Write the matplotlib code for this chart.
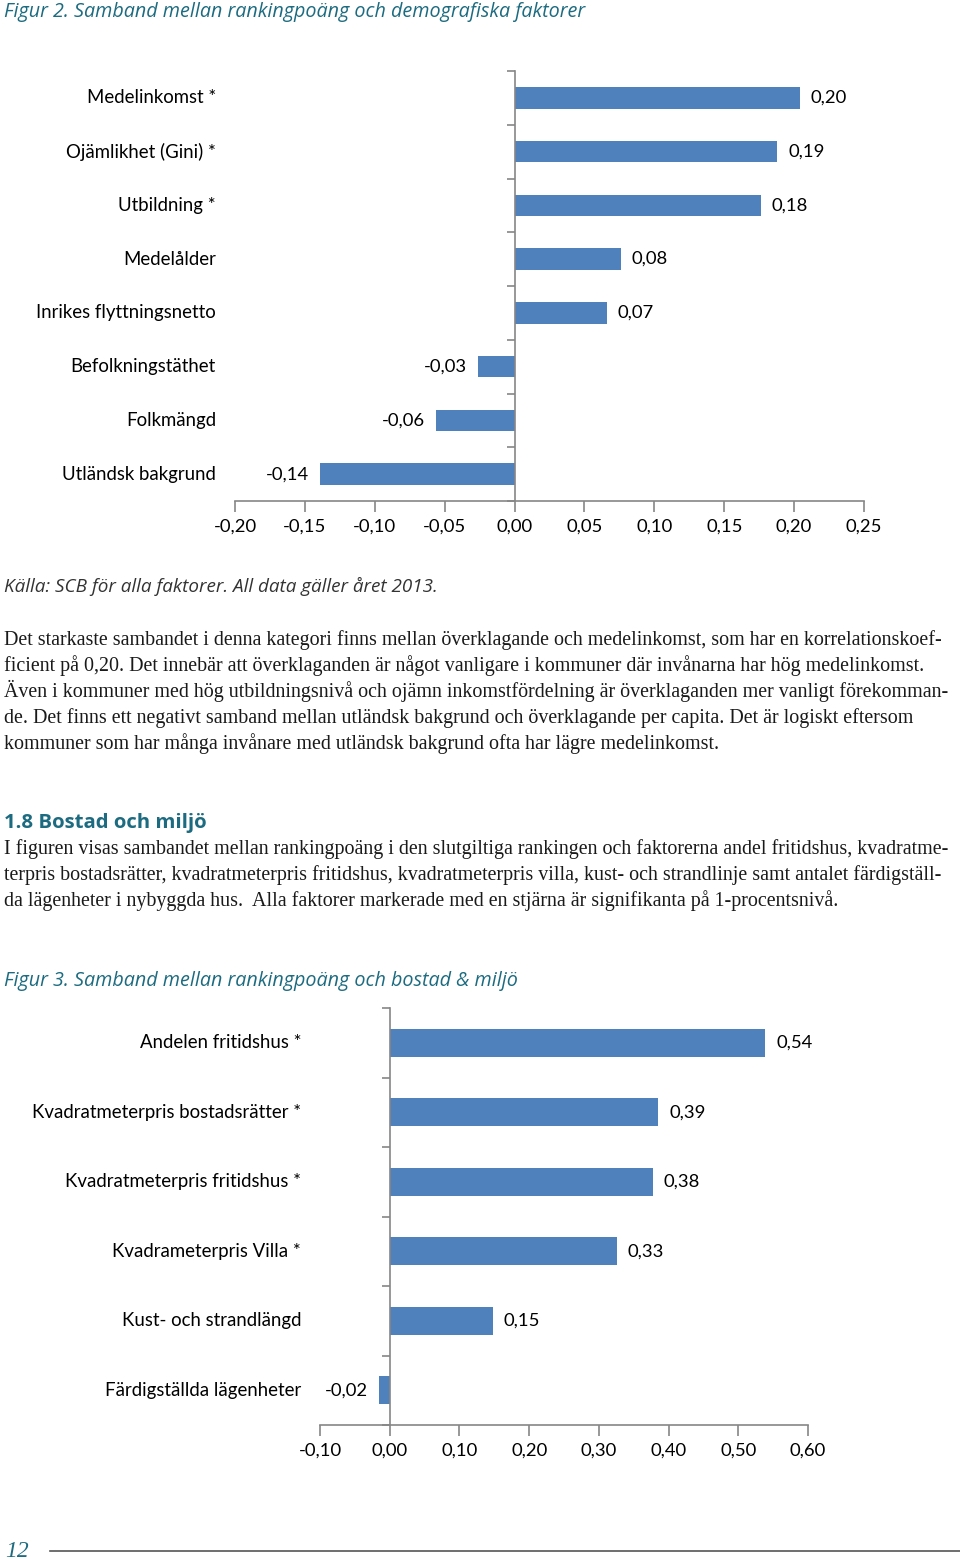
import matplotlib
matplotlib.use('Agg')
import matplotlib.pyplot as plt
import matplotlib.transforms as mtransforms

W, H = 960, 1560
BLUE = '#4F81BD'
AXC = '#868686'
TEAL = '#1C6B80'
SANS = 'Lato'

# Figur 2
demo_labels = ['Medelinkomst *', 'Ojämlikhet (Gini) *', 'Utbildning *', 'Medelålder',
               'Inrikes flyttningsnetto', 'Befolkningstäthet', 'Folkmängd', 'Utländsk bakgrund']
demo_values = [0.204, 0.188, 0.176, 0.076, 0.066, -0.026, -0.056, -0.139]
demo_ticks = [-0.20, -0.15, -0.10, -0.05, 0.00, 0.05, 0.10, 0.15, 0.20, 0.25]

# Figur 3
bostad_labels = ['Andelen fritidshus *', 'Kvadratmeterpris bostadsrätter *',
                 'Kvadratmeterpris fritidshus *', 'Kvadrameterpris Villa *',
                 'Kust- och strandlängd', 'Färdigställda lägenheter']
bostad_values = [0.539, 0.385, 0.377, 0.326, 0.148, -0.016]
bostad_ticks = [-0.10, 0.00, 0.10, 0.20, 0.30, 0.40, 0.50, 0.60]

para1 = ['Det starkaste sambandet i denna kategori finns mellan överklagande och medelinkomst, som har en korrelationskoef-',
         'ficient på 0,20. Det innebär att överklaganden är något vanligare i kommuner där invånarna har hög medelinkomst.',
         'Även i kommuner med hög utbildningsnivå och ojämn inkomstfördelning är överklaganden mer vanligt förekomman-',
         'de. Det finns ett negativt samband mellan utländsk bakgrund och överklagande per capita. Det är logiskt eftersom',
         'kommuner som har många invånare med utländsk bakgrund ofta har lägre medelinkomst.']
para2 = ['I figuren visas sambandet mellan rankingpoäng i den slutgiltiga rankingen och faktorerna andel fritidshus, kvadratme-',
         'terpris bostadsrätter, kvadratmeterpris fritidshus, kvadratmeterpris villa, kust- och strandlinje samt antalet färdigställ-',
         'da lägenheter i nybyggda hus.  Alla faktorer markerade med en stjärna är signifikanta på 1-procentsnivå.']


def fmt(v):
    return f'{v:.2f}'.replace('.', ',')


fig = plt.figure(figsize=(W / 100, H / 100), dpi=100)


def bar_chart(l, t, r, b, labels, values, ticks):
    ax = fig.add_axes([l / W, 1 - b / H, (r - l) / W, (b - t) / H])
    n = len(labels)
    ax.barh(range(n), values, height=0.4, color=BLUE)
    ax.set_xlim(ticks[0], ticks[-1])
    ax.set_ylim(n - 0.5, -0.5)
    ax.spines['top'].set_visible(False)
    ax.spines['right'].set_visible(False)
    ax.spines['left'].set_position(('data', 0))
    for s in ['left', 'bottom']:
        ax.spines[s].set_color(AXC)
        ax.spines[s].set_linewidth(1.2)
    ax.set_yticks([i - 0.5 for i in range(n + 1)])
    ax.set_yticklabels([])
    ax.tick_params(axis='y', length=6, width=1.2, color=AXC)
    ax.set_xticks(ticks)
    ax.set_xticklabels([fmt(v) for v in ticks], fontsize=13.3, family=SANS)
    ax.tick_params(axis='x', length=8, width=1.2, color=AXC, pad=5)
    trans = mtransforms.blended_transform_factory(ax.transAxes, ax.transData)
    for i, lab in enumerate(labels):
        ax.text(-19 / (r - l), i, lab, transform=trans, ha='right', va='center',
                fontsize=13.4, family=SANS)
    for i, v in enumerate(values):
        ax.annotate(fmt(v), (v, i), xytext=(11 if v > 0 else -11, 0),
                    textcoords='offset pixels', ha='left' if v > 0 else 'right',
                    va='center', fontsize=13.3, family=SANS)
    return ax


def ftext(x, y, s, **kw):
    fig.text(x / W, 1 - y / H, s, va='baseline', **kw)


ftext(4, 17, 'Figur 2. Samband mellan rankingpoäng och demografiska faktorer',
      color=TEAL, fontsize=14.25, family='Open Sans', style='italic')
bar_chart(235, 71, 864, 501, demo_labels, demo_values, demo_ticks)
ftext(4, 592, 'Källa: SCB för alla faktorer. All data gäller året 2013.',
      color='#333333', fontsize=13.6, family='Open Sans', style='italic')

for k, line in enumerate(para1):
    ftext(4, 645 + 26 * k, line, fontsize=14.4, family='Liberation Serif', color='#1a1a1a')

ftext(4, 828, '1.8 Bostad och miljö', color=TEAL, fontsize=14.7, family='Open Sans',
      weight='bold')
for k, line in enumerate(para2):
    ftext(4, 854 + 26 * k, line, fontsize=14.4, family='Liberation Serif', color='#1a1a1a')

ftext(4, 986, 'Figur 3. Samband mellan rankingpoäng och bostad & miljö',
      color=TEAL, fontsize=14.25, family='Open Sans', style='italic')
bar_chart(320, 1008, 808, 1425, bostad_labels, bostad_values, bostad_ticks)

ftext(5, 1557, '12', color=TEAL, fontsize=17, family='Liberation Serif', style='italic')
fig.add_artist(plt.Line2D([50 / W, 1], [1 - 1551 / H] * 2, color='#555555', lw=1.2))

fig.savefig('out.png', dpi=100)
